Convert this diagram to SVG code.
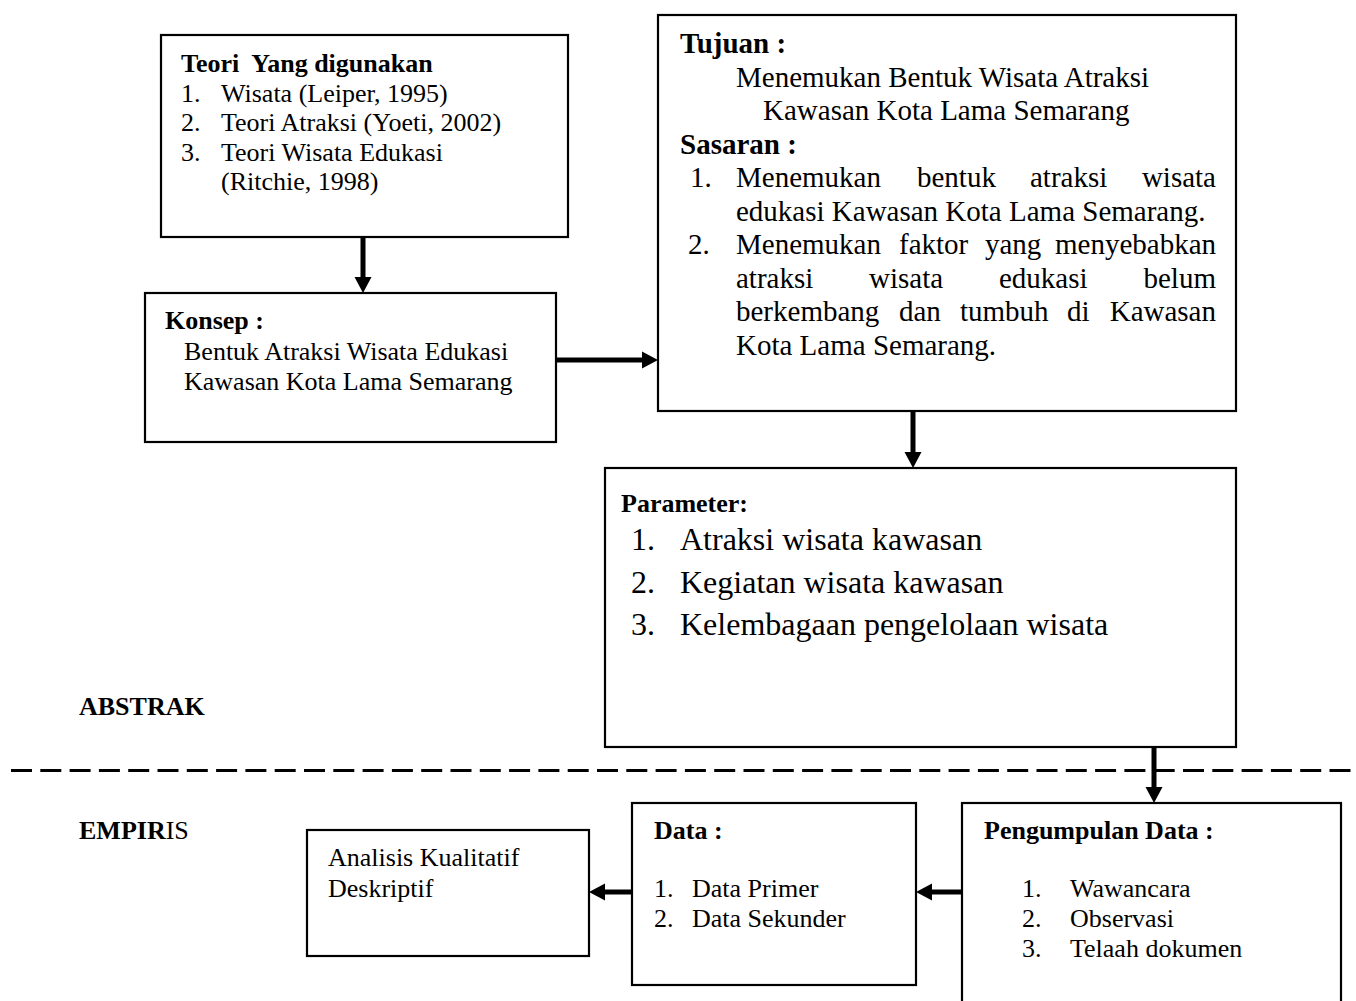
<svg xmlns="http://www.w3.org/2000/svg" width="1356" height="1001" viewBox="0 0 1356 1001">
<style>
text{font-family:"Liberation Serif","Times New Roman",serif;fill:#000}
.t{font-size:26px}
.tb{font-size:26px;font-weight:bold}
.m{font-size:29px}
.mb{font-size:29px;font-weight:bold}
.p{font-size:32px}
.box{fill:#fff;stroke:#000;stroke-width:2.2}
.arr{stroke:#000;stroke-width:5;fill:none;marker-end:url(#ah)}
.dash{stroke:#000;stroke-width:3;stroke-dasharray:21 8.3}
</style>
<defs>
<marker id="ah" markerUnits="userSpaceOnUse" markerWidth="17" markerHeight="17" refX="0" refY="8.5" orient="auto" overflow="visible">
<path d="M0,0 L16,8.5 L0,17 z" fill="#000"/>
</marker>
</defs>
<rect width="1356" height="1001" fill="#fff"/>

<g id="divider">
<line class="dash" x1="11" y1="770.5" x2="1356" y2="770.5"/>
<text class="tb" x="79" y="715">ABSTRAK</text>
<text class="t" x="79" y="839"><tspan font-weight="bold">EMPIR</tspan>IS</text>
</g>

<g id="connectors">
<line class="arr" x1="363" y1="237" x2="363" y2="277"/>
<line class="arr" x1="556" y1="360" x2="642" y2="360"/>
<line class="arr" x1="913" y1="411" x2="913" y2="452"/>
<line class="arr" x1="1154" y1="747" x2="1154" y2="787"/>
<line class="arr" x1="962" y1="892" x2="932" y2="892"/>
<line class="arr" x1="632" y1="892" x2="605" y2="892"/>
</g>

<g id="teori">
<rect class="box" x="161" y="35" width="407" height="202"/>
<text class="tb" x="181" y="72" xml:space="preserve">Teori  Yang digunakan</text>
<text class="t" x="181" y="101.5">1.</text><text class="t" x="221" y="101.5">Wisata (Leiper, 1995)</text>
<text class="t" x="181" y="131">2.</text><text class="t" x="221" y="131">Teori Atraksi (Yoeti, 2002)</text>
<text class="t" x="181" y="160.5">3.</text><text class="t" x="221" y="160.5">Teori Wisata Edukasi</text>
<text class="t" x="221" y="190">(Ritchie, 1998)</text>
</g>

<g id="konsep">
<rect class="box" x="145" y="293" width="411" height="149"/>
<text class="tb" x="165" y="329">Konsep :</text>
<text class="t" x="184" y="360">Bentuk Atraksi Wisata Edukasi</text>
<text class="t" x="184" y="390">Kawasan Kota Lama Semarang</text>
</g>

<g id="tujuan">
<rect class="box" x="658" y="15" width="578" height="396"/>
<text class="mb" x="680" y="53">Tujuan :</text>
<text class="m" x="736" y="86.5">Menemukan Bentuk Wisata Atraksi</text>
<text class="m" x="763" y="120">Kawasan Kota Lama Semarang</text>
<text class="mb" x="680" y="153.5">Sasaran :</text>
<text class="m" x="690" y="187">1.</text>
<text class="m" x="736" y="187">Menemukan</text><text class="m" x="917" y="187">bentuk</text><text class="m" x="1030" y="187">atraksi</text><text class="m" x="1216" y="187" text-anchor="end">wisata</text>
<text class="m" x="736" y="220.5">edukasi Kawasan Kota Lama Semarang.</text>
<text class="m" x="688" y="254">2.</text>
<text class="m" x="736" y="254">Menemukan</text><text class="m" x="899" y="254">faktor</text><text class="m" x="985" y="254">yang</text><text class="m" x="1216" y="254" text-anchor="end">menyebabkan</text>
<text class="m" x="736" y="287.5">atraksi</text><text class="m" x="869" y="287.5">wisata</text><text class="m" x="999" y="287.5">edukasi</text><text class="m" x="1216" y="287.5" text-anchor="end">belum</text>
<text class="m" x="736" y="321">berkembang</text><text class="m" x="899" y="321">dan</text><text class="m" x="960" y="321">tumbuh</text><text class="m" x="1067" y="321">di</text><text class="m" x="1216" y="321" text-anchor="end">Kawasan</text>
<text class="m" x="736" y="354.5">Kota Lama Semarang.</text>
</g>

<g id="parameter">
<rect class="box" x="605" y="468" width="631" height="279"/>
<text class="tb" x="621" y="512">Parameter:</text>
<text class="p" x="631" y="550">1.</text><text class="p" x="680" y="550">Atraksi wisata kawasan</text>
<text class="p" x="631" y="593">2.</text><text class="p" x="680" y="593">Kegiatan wisata kawasan</text>
<text class="p" x="631" y="635">3.</text><text class="p" x="680" y="635">Kelembagaan pengelolaan wisata</text>
</g>

<g id="pengumpulan">
<rect class="box" x="962" y="803" width="379" height="210"/>
<text class="tb" x="984" y="839">Pengumpulan Data :</text>
<text class="t" x="1022" y="897">1.</text><text class="t" x="1070" y="897">Wawancara</text>
<text class="t" x="1022" y="927">2.</text><text class="t" x="1070" y="927">Observasi</text>
<text class="t" x="1022" y="957">3.</text><text class="t" x="1070" y="957">Telaah dokumen</text>
</g>

<g id="data">
<rect class="box" x="632" y="803" width="284" height="182"/>
<text class="tb" x="654" y="839">Data :</text>
<text class="t" x="654" y="897">1.</text><text class="t" x="692" y="897">Data Primer</text>
<text class="t" x="654" y="927">2.</text><text class="t" x="692" y="927">Data Sekunder</text>
</g>

<g id="analisis">
<rect class="box" x="307" y="830" width="282" height="126"/>
<text class="t" x="328" y="866">Analisis Kualitatif</text>
<text class="t" x="328" y="897">Deskriptif</text>
</g>
</svg>
